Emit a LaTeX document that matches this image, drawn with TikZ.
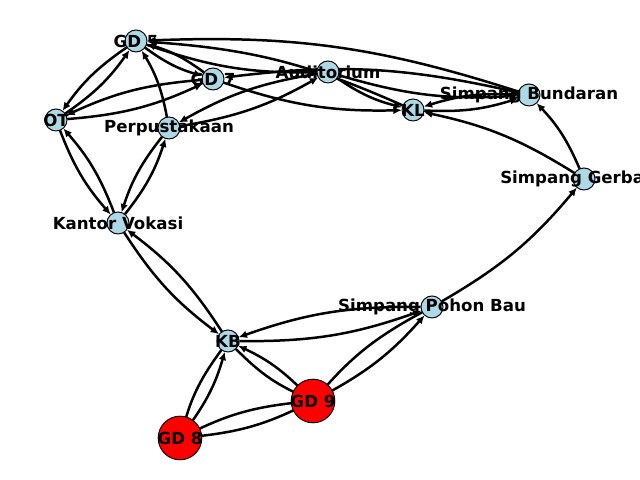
\documentclass[tikz,border=0pt]{standalone}
\usepackage{fontspec}
\setmainfont{DejaVu Sans}
\usetikzlibrary{arrows.meta}
\definecolor{lblue}{HTML}{ADD8E6}
\begin{document}
\begin{tikzpicture}[x=0.01in,y=0.01in,
  hub/.style={circle,inner sep=0pt,minimum size=15.9pt},
  link/.style={line width=1.8pt,-{Latex[length=6pt,width=5.5pt]},bend right=10},
  smallnode/.style={circle,draw=black,line width=0.7pt,fill=lblue,minimum size=15.9pt,inner sep=0pt},
  bignode/.style={circle,draw=black,line width=0.7pt,fill=red,minimum size=31.5pt,inner sep=0pt},
  lbl/.style={font=\bfseries\fontsize{12}{14}\selectfont,text=black,inner sep=0pt}]
\useasboundingbox (0,0) rectangle (640,480);
\clip (0,0) rectangle (640,480);
% anchor points
\node[hub] (GD5) at (136,439) {};
\node[hub] (GD7) at (213,401) {};
\node[hub] (AUD) at (328,408) {};
\node[hub] (KL)  at (413,370) {};
\node[hub] (SB)  at (529,385) {};
\node[hub] (SG)  at (584,301) {};
\node[hub] (OT)  at (56,360) {};
\node[hub] (PER) at (169,352) {};
\node[hub] (KV)  at (118,257) {};
\node[hub] (KB)  at (228,139) {};
\node[hub] (SPB) at (432,173) {};
\node[hub] (GD9) at (313,79) {};
\node[hub] (GD8) at (180,42) {};
% edges
\foreach \u/\v in {OT/GD5,GD5/OT,OT/GD7,GD7/OT,OT/KV,KV/OT,PER/KV,KV/PER,PER/AUD,AUD/PER,
  GD5/GD7,GD7/GD5,KV/KB,KB/KV,KB/SPB,SPB/KB,SB/KL,KL/SB,GD8/KB,KB/GD8,GD9/KB,KB/GD9,
  GD8/GD9,GD9/GD8,GD9/SPB,SPB/GD9,PER/GD5,SB/GD5,GD5/AUD,AUD/SB,SB/GD7,AUD/KL,KL/GD5,
  GD7/KL,SPB/SG,SG/SB,SG/KL}
  \draw[link] (\u) to (\v);
% visible nodes
\foreach \n in {GD5,GD7,AUD,KL,SB,SG,OT,PER,KV,KB,SPB}
  \node[smallnode] (c-\n) at (\n) {};
\node[bignode] (c-GD9) at (GD9) {};
\node[bignode] (c-GD8) at (GD8) {};
% labels
\node[lbl] (t-GD5) at (GD5) {GD 5};
\node[lbl] (t-GD7) at (GD7) {GD 7};
\node[lbl] (t-AUD) at (AUD) {Auditorium};
\node[lbl] (t-KL)  at (KL)  {KL};
\node[lbl] (t-SB)  at (SB)  {Simpang Bundaran};
\node[lbl] (t-SG)  at (SG)  {Simpang Gerbang};
\node[lbl] (t-OT)  at (OT)  {OT};
\node[lbl] (t-PER) at (PER) {Perpustakaan};
\node[lbl] (t-KV)  at (KV)  {Kantor Vokasi};
\node[lbl] (t-KB)  at (KB)  {KB};
\node[lbl] (t-SPB) at (SPB) {Simpang Pohon Bau};
\node[lbl] (t-GD9) at (GD9) {GD 9};
\node[lbl] (t-GD8) at (GD8) {GD 8};
\end{tikzpicture}
\end{document}
